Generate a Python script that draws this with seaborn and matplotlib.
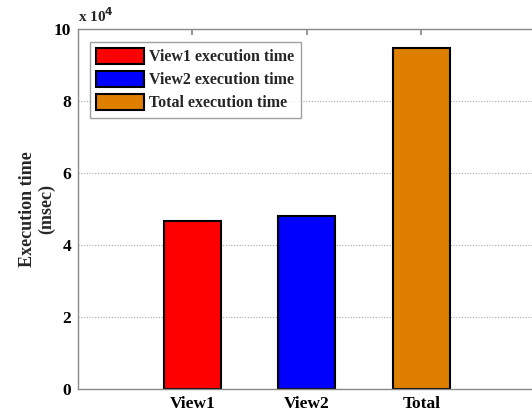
import matplotlib
matplotlib.use("Agg")
import matplotlib.pyplot as plt
import seaborn as sns
import pandas as pd
from matplotlib.ticker import FuncFormatter, FixedLocator

categories = ["View1", "View2", "Total"]
legend_labels = ["View1 execution time", "View2 execution time", "Total execution time"]
exec_time_ms = [46800, 48200, 94700]
bar_colors = ["#FF0000", "#0000FF", "#DE7F00"]
y_ticks = [0, 20000, 40000, 60000, 80000, 100000]

sns.set_theme(style="white")
plt.rcParams["font.family"] = ["Liberation Serif", "DejaVu Serif"]
plt.rcParams["font.weight"] = "bold"

df = pd.DataFrame({"category": categories, "time": exec_time_ms, "label": legend_labels})

fig = plt.figure(figsize=(5.32, 4.15), dpi=100)
ax = fig.add_axes([78 / 532, 25.7 / 415, 457.6 / 532, 360 / 415])

sns.barplot(data=df, x="category", y="time", hue="label", palette=bar_colors,
            dodge=False, width=0.5, edgecolor="black", linewidth=1.5, ax=ax,
            saturation=1)

ax.set_xlim(-1, 3)
ax.set_ylim(0, 100000)
ax.yaxis.set_major_locator(FixedLocator(y_ticks))
ax.yaxis.set_major_formatter(FuncFormatter(lambda v, p: f"{v / 1e4:g}"))
ax.yaxis.grid(True, linestyle=(0, (1, 1.5)), color="#a8a8a8", linewidth=0.8)
ax.set_axisbelow(True)

for side in ["left", "bottom", "top"]:
    ax.spines[side].set_color("#8a8a8a")
    ax.spines[side].set_linewidth(1.0)
ax.spines["right"].set_visible(False)

ax.tick_params(axis="both", direction="in", length=4, color="#8a8a8a",
               labelsize=12.5, labelcolor="black")
ax.tick_params(axis="x", top=True, pad=5)
ax.tick_params(axis="y", pad=5)
for t in ax.get_xticklabels() + ax.get_yticklabels():
    t.set_fontweight("bold")

ax.set_xlabel("")
ax.set_ylabel("Execution time\n(msec)", fontsize=13, fontweight="bold", labelpad=-1,
              linespacing=1.1)

ax.text(0.0, 1.012, "x 10$^4$", transform=ax.transAxes, fontsize=11,
        fontweight="bold", ha="left", va="bottom")

leg = ax.legend(loc="upper left", bbox_to_anchor=(0.026, 0.966), fontsize=11.5,
                frameon=True, fancybox=False, edgecolor="#8a8a8a",
                handlelength=3.0, handleheight=1.15, handletextpad=0.3,
                labelspacing=0.35, borderpad=0.4, borderaxespad=0)
leg.get_frame().set_linewidth(1.0)
for txt in leg.get_texts():
    txt.set_fontweight("bold")

fig.savefig("out.png", dpi=100)
